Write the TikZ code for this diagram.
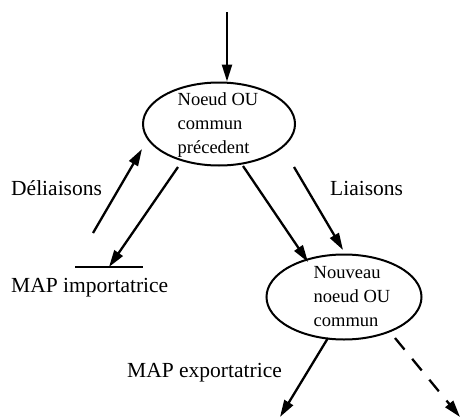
\documentclass[tikz,border=0pt]{standalone}
\usepackage{fontspec}
\setmainfont{Liberation Serif}
\usetikzlibrary{arrows.meta,shapes.geometric}
\begin{document}
\begin{tikzpicture}[x=1pt,y=-1pt,
  arr/.style={line width=2.3pt,-{Triangle[length=17pt,width=10pt]}},
  dashedarr/.style={arr,dash pattern=on 15pt off 12pt},
  ornode/.style={ellipse,draw,line width=2pt,inner sep=0pt},
  intext/.style={align=left,font=\fontsize{18.5}{24}\selectfont,inner sep=0pt},
  lbl/.style={anchor=west,font=\fontsize{21.5}{24}\selectfont,inner sep=0pt}]
\useasboundingbox (0,0) rectangle (461,418);

% the two OR nodes
\node[ornode,minimum width=152pt,minimum height=83pt] (e1) at (219,124) {};
\node[intext] (e1text) at (218,125) {Noeud OU\\commun\\précedent};
\node[ornode,minimum width=155pt,minimum height=85pt] (e2) at (344,297) {};
\node[intext] (e2text) at (352,297) {Nouveau\\noeud OU\\commun};

% free ends of the connectors
\coordinate (top) at (227,12);
\coordinate (dtail) at (93,233);
\coordinate (dhead) at (142,149);
\coordinate (istart) at (178,167);
\coordinate (itip) at (109,267);
\coordinate (mapl) at (75,267);
\coordinate (mapr) at (143,267);
\coordinate (lstart) at (243,166);
\coordinate (ltip) at (308,262);
\coordinate (ls) at (294,167);
\coordinate (le) at (343,250);
\coordinate (xstart) at (328,338);
\coordinate (xtip) at (280,417);
\coordinate (dstart) at (395,338);
\coordinate (dtip) at (460,417);

% connectors
\draw[arr] (top) -- (top |- e1.north);
\draw[arr] (dtail) -- (dhead);
\draw[arr] (istart) -- (itip);
\draw[line width=2.3pt] (mapl) -- (mapr);
\draw[arr] (lstart) -- (ltip);
\draw[arr] (ls) -- (le);
\draw[arr] (xstart) -- (xtip);
\draw[dashedarr] (dstart) -- (dtip);

% labels
\node[lbl] (deli) at (11,188) {Déliaisons};
\node[lbl] (mapimp) at (11,288) {MAP importatrice};
\node[lbl] (liai) at (330,188) {Liaisons};
\node[lbl] (mapexp) at (127,373) {MAP exportatrice};
\end{tikzpicture}
\end{document}
